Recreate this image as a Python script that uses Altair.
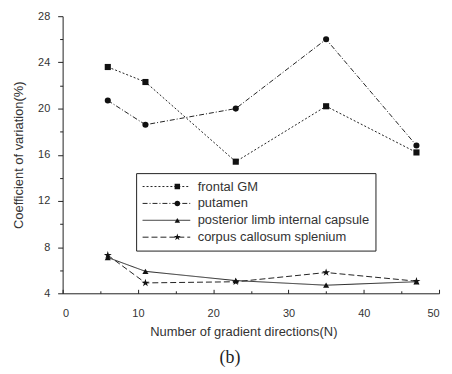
import altair as alt
import pandas as pd

# ---- data ----
series_names = ["frontal GM", "putamen", "posterior limb internal capsule", "corpus callosum splenium"]
directions = [6, 11, 23, 35, 47]
frontal_gm = [23.6, 22.3, 15.4, 20.2, 16.2]
putamen = [20.7, 18.6, 20.0, 26.0, 16.8]
posterior_limb = [7.1, 5.9, 5.1, 4.7, 5.0]
corpus_callosum = [7.3, 4.9, 5.0, 5.8, 5.05]

x_major = [0, 10, 20, 30, 40, 50]
x_minor = [5, 15, 25, 35, 45]
y_major = [4, 8, 12, 16, 20, 24, 28]
y_minor = [6, 10, 14, 18, 22, 26]

rows = []
for name, vals in zip(series_names, [frontal_gm, putamen, posterior_limb, corpus_callosum]):
    for d, v in zip(directions, vals):
        rows.append({"N": d, "cv": v, "series": name, "series_b": name})
df = pd.DataFrame(rows)

STAR = ("M0,-1.35L0.303,-0.417L1.284,-0.417L0.49,0.159L0.794,1.092L0,0.516"
        "L-0.794,1.092L-0.49,0.159L-1.284,-0.417L-0.303,-0.417Z")
shape_range = ["square", "circle", "triangle-up", STAR]
dash_range = [[2, 2], [5, 2, 1, 2], [1, 0], [6, 3]]

INK = "#222222"
TXT = "#333333"
FONT = "Liberation Sans"

x_scale = alt.Scale(domain=[0, 50], nice=False, zero=False)
y_scale = alt.Scale(domain=[4, 28], nice=False, zero=False)

lines = alt.Chart(df).mark_line(color=INK, strokeWidth=1).encode(
    x=alt.X("N:Q", scale=x_scale,
            axis=alt.Axis(values=x_major, title="Number of gradient directions(N)",
                          orient="bottom", grid=False, domainColor=INK, tickColor=INK,
                          tickSize=alt.ExprRef(expr="-4"), labelPadding=18,
                          labelFont=FONT, labelFontSize=11, labelColor=TXT,
                          titleFont=FONT, titleFontSize=13, titleFontWeight="normal",
                          titleColor=TXT, titlePadding=8, titleX=182)),
    y=alt.Y("cv:Q", scale=y_scale,
            axis=alt.Axis(values=y_major, title="Coefficient of variation(%)",
                          orient="left", grid=False, domainColor=INK, tickColor=INK,
                          tickSize=5, labelPadding=8,
                          labelFont=FONT, labelFontSize=11, labelColor=TXT,
                          titleFont=FONT, titleFontSize=13, titleFontWeight="normal",
                          titleColor=TXT, titlePadding=12)),
    strokeDash=alt.StrokeDash(
        "series:N",
        scale=alt.Scale(domain=series_names, range=dash_range),
        legend=alt.Legend(orient="none", legendX=74, legendY=158, title=None,
                          strokeColor=INK, padding=6, symbolType="stroke",
                          symbolSize=2304, symbolStrokeWidth=1, symbolStrokeColor=INK,
                          clipHeight=15, rowPadding=2, labelFont=FONT,
                          labelFontSize=13, labelColor=TXT, labelOffset=7,
                          labelLimit=400,
                          labelExpr="datum.label + '\u00a0\u00a0\u00a0\u00a0\u00a0'")),
)

points = alt.Chart(df).mark_point(filled=True, color="#111111", size=38, opacity=1).encode(
    x=alt.X("N:Q", scale=x_scale,
            axis=alt.Axis(values=x_minor, labels=False, domain=False, title=None,
                          orient="bottom", grid=False, tickColor=INK,
                          tickSize=alt.ExprRef(expr="-2.5"))),
    y=alt.Y("cv:Q", scale=y_scale,
            axis=alt.Axis(values=y_minor, labels=False, domain=False, title=None,
                          orient="left", grid=False, tickColor=INK, tickSize=3)),
    shape=alt.Shape(
        "series_b:N", sort=series_names,
        scale=alt.Scale(range=shape_range),
        legend=alt.Legend(orient="none", legendX=103, legendY=158, title=None,
                          padding=6, symbolSize=30, symbolFillColor="#111111",
                          symbolStrokeColor="#111111", symbolStrokeWidth=0,
                          clipHeight=15, rowPadding=2, labelFont=FONT,
                          labelFontSize=13, labelExpr="''", labelLimit=400)),
)

chart = alt.layer(lines, points).resolve_axis(x="independent", y="independent").properties(
    width=379,
    height=279,
    padding={"left": 55, "top": 7, "right": 5, "bottom": 80},
    autosize=alt.AutoSizeParams(type="none"),
    title=alt.TitleParams(text="(b)", orient="bottom", anchor="middle",
                          font="Liberation Serif", fontSize=18, fontWeight="normal",
                          color=INK, dx=-21, offset=10),
).configure_view(stroke=None)

chart.save("out.html", embed_options={"renderer": "svg", "actions": False})
